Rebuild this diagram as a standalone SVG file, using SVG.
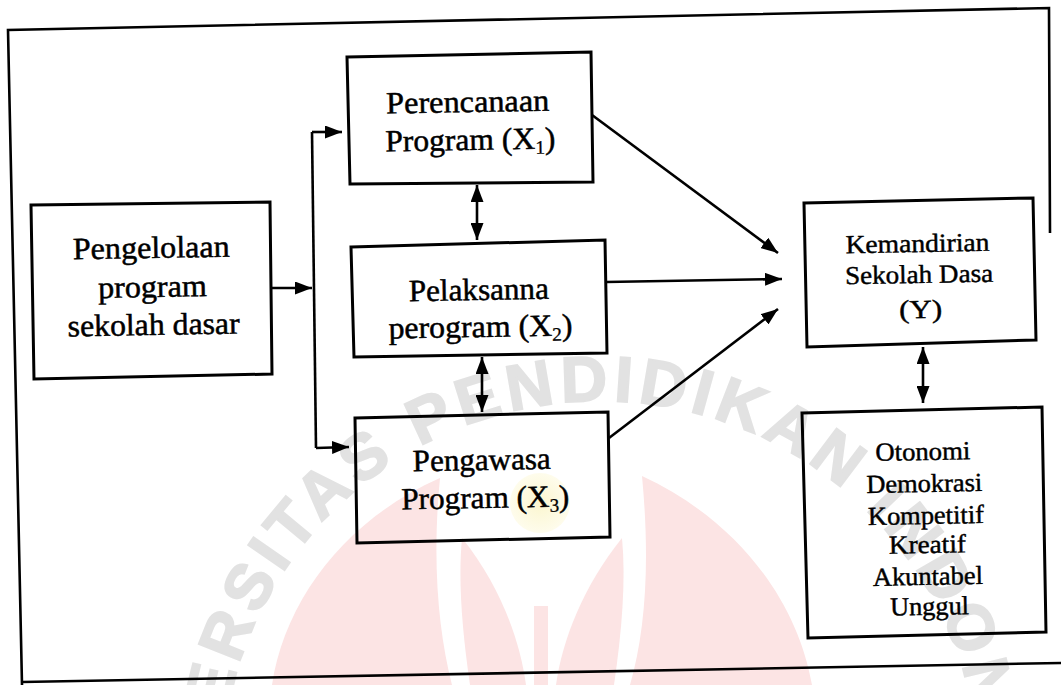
<svg xmlns="http://www.w3.org/2000/svg" width="1061" height="685" viewBox="0 0 1061 685">
<defs>
<style>
.box{fill:none;stroke:#000;stroke-width:3;stroke-linejoin:miter}
.frame{fill:none;stroke:#000;stroke-width:2.6}
.lbl{font-family:"Liberation Serif","Times New Roman",serif;font-size:31px;fill:#000;stroke:#000;stroke-width:0.5;text-anchor:middle}
.sm{font-family:"Liberation Serif","Times New Roman",serif;font-size:26px;fill:#000;stroke:#000;stroke-width:0.45;text-anchor:middle}
.con{fill:none;stroke:#000;stroke-width:2.6}
.one{marker-end:url(#ah)}
.two{marker-start:url(#ah);marker-end:url(#ah)}
.wm{font-family:"Liberation Sans",Arial,sans-serif;font-weight:bold;font-size:64px;letter-spacing:6px;fill:#e2e2e2;stroke:#e2e2e2;stroke-width:2}
.pink{fill:#fce4e4}
</style>
<marker id="ah" viewBox="0 0 17 13" refX="17" refY="6.5" markerWidth="17" markerHeight="13" markerUnits="userSpaceOnUse" orient="auto-start-reverse">
<path d="M0,0 L17,6.5 L0,13 Z" fill="#000"/>
</marker>
<path id="ring" d="M600,1159 A379,379 0 1 1 600,401 A379,379 0 1 1 600,1159"/>
<radialGradient id="hl" cx="0.5" cy="0.5" r="0.5">
<stop offset="0" stop-color="#fbf6cf"/>
<stop offset="1" stop-color="#fefcec"/>
</radialGradient>
</defs>
<rect width="1061" height="685" fill="#fff"/>
<g id="watermark">
<path class="pink" d="M272,685 C285,600 345,520 440,478 C432,560 438,630 452,685 Z"/>
<path class="pink" d="M462,538 C500,585 520,640 526,685 L470,685 C462,630 458,580 462,538 Z"/>
<rect class="pink" x="534" y="606" width="14" height="79"/>
<path class="pink" d="M622,538 C584,585 562,640 556,685 L614,685 C622,630 626,580 622,538 Z"/>
<path class="pink" d="M642,476 C737,520 797,600 812,685 L630,685 C646,630 650,560 642,476 Z"/>
<text class="wm"><textPath href="#ring" startOffset="50%" text-anchor="middle">UNIVERSITAS PENDIDIKAN INDONESIA</textPath></text>
</g>
<circle cx="540" cy="503" r="30" fill="url(#hl)"/>
<g id="frame">
<path class="frame" d="M1050,233 L1049,8 L8,30 L22,685"/>
<path class="frame" d="M22,682 L1061,663"/>
</g>
<g id="connectors">
<path class="con one" d="M271,288 L312,288"/>
<path class="con" d="M312,132 L316,448"/>
<path class="con one" d="M312,132 L342,132"/>
<path class="con one" d="M316,448 L349,447"/>
<path class="con two" d="M477,185 L477,240"/>
<path class="con two" d="M482,357 L482,412"/>
<path class="con two" d="M923,347 L923,403"/>
<path class="con one" d="M592,115 L778,253"/>
<path class="con one" d="M606,282 L782,279"/>
<path class="con one" d="M609,438 L778,309"/>
</g>
<g id="n1">
<polygon class="box" points="31,205 270,202 272,374 34,379"/>
<g transform="rotate(-1 152 290)">
<text class="lbl" x="152" y="258" textLength="157" lengthAdjust="spacingAndGlyphs">Pengelolaan</text>
<text class="lbl" x="152.5" y="297" textLength="109" lengthAdjust="spacingAndGlyphs">program</text>
<text class="lbl" x="153" y="335" textLength="172" lengthAdjust="spacingAndGlyphs">sekolah dasar</text>
</g>
</g>
<g id="n2">
<polygon class="box" points="347,57 591,52 593,182 350,184"/>
<g transform="rotate(-1 469 120)">
<text class="lbl" x="468" y="112" textLength="163" lengthAdjust="spacingAndGlyphs">Perencanaan</text>
<text class="lbl" x="470" y="150" textLength="170" lengthAdjust="spacingAndGlyphs">Program (X<tspan font-size="19" stroke-width="0.3" dy="5">1</tspan><tspan dy="-5">)</tspan></text>
</g>
</g>
<g id="n3">
<polygon class="box" points="351,247 605,240 607,353 354,357"/>
<g transform="rotate(-1 479 300)">
<text class="lbl" x="479" y="300" textLength="140" lengthAdjust="spacingAndGlyphs">Pelaksanna</text>
<text class="lbl" x="480" y="337" textLength="184" lengthAdjust="spacingAndGlyphs">perogram (X<tspan font-size="19" stroke-width="0.3" dy="5">2</tspan><tspan dy="-5">)</tspan></text>
</g>
</g>
<g id="n4">
<polygon class="box" points="355,418 608,412 610,537 357,543"/>
<g transform="rotate(-1 483 478)">
<text class="lbl" x="482" y="470" textLength="138" lengthAdjust="spacingAndGlyphs">Pengawasa</text>
<text class="lbl" x="485" y="508" textLength="168" lengthAdjust="spacingAndGlyphs">Program (X<tspan font-size="19" stroke-width="0.3" dy="5">3</tspan><tspan dy="-5">)</tspan></text>
</g>
</g>
<g id="n5">
<polygon class="box" points="804,203 1033,198 1036,340 807,347"/>
<g transform="rotate(-1 919 272)">
<text class="sm" x="918" y="252" textLength="144" lengthAdjust="spacingAndGlyphs">Kemandirian</text>
<text class="sm" x="919" y="283" textLength="148" lengthAdjust="spacingAndGlyphs">Sekolah Dasa</text>
<text class="sm" x="920" y="318" font-size="28" textLength="43" lengthAdjust="spacingAndGlyphs">(Y)</text>
</g>
</g>
<g id="n6">
<polygon class="box" points="802,413 1042,407 1046,632 808,638"/>
<g transform="rotate(-1 925 522)">
<text class="sm" x="924" y="460" textLength="95" lengthAdjust="spacingAndGlyphs">Otonomi</text>
<text class="sm" x="925" y="492" textLength="116" lengthAdjust="spacingAndGlyphs">Demokrasi</text>
<text class="sm" x="926" y="524" textLength="116" lengthAdjust="spacingAndGlyphs">Kompetitif</text>
<text class="sm" x="927" y="553" textLength="77" lengthAdjust="spacingAndGlyphs">Kreatif</text>
<text class="sm" x="927" y="585" textLength="110" lengthAdjust="spacingAndGlyphs">Akuntabel</text>
<text class="sm" x="928" y="615" textLength="79" lengthAdjust="spacingAndGlyphs">Unggul</text>
</g>
</g>
</svg>
